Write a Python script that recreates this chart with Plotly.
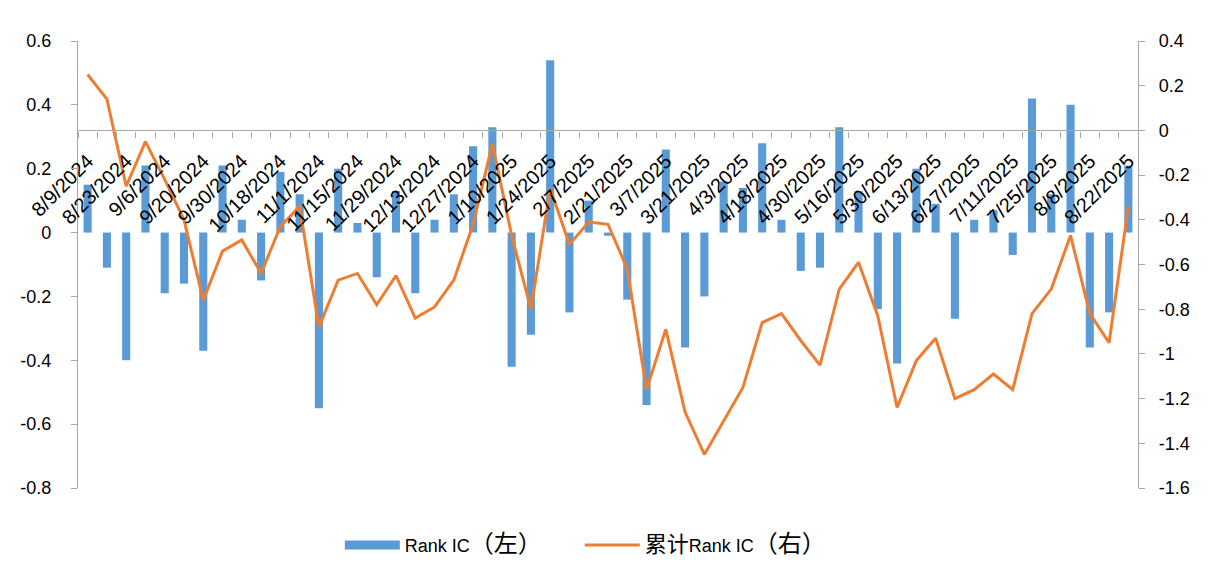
import plotly.graph_objects as go

dates = [
    "8/9/2024", "8/16/2024", "8/23/2024", "8/30/2024", "9/6/2024", "9/13/2024",
    "9/20/2024", "9/27/2024", "9/30/2024", "10/11/2024", "10/18/2024", "10/25/2024",
    "11/1/2024", "11/8/2024", "11/15/2024", "11/22/2024", "11/29/2024", "12/6/2024",
    "12/13/2024", "12/20/2024", "12/27/2024", "1/3/2025", "1/10/2025", "1/17/2025",
    "1/24/2025", "1/27/2025", "2/7/2025", "2/14/2025", "2/21/2025", "2/28/2025",
    "3/7/2025", "3/14/2025", "3/21/2025", "3/28/2025", "4/3/2025", "4/11/2025",
    "4/18/2025", "4/25/2025", "4/30/2025", "5/9/2025", "5/16/2025", "5/23/2025",
    "5/30/2025", "6/6/2025", "6/13/2025", "6/20/2025", "6/27/2025", "7/4/2025",
    "7/11/2025", "7/18/2025", "7/25/2025", "8/1/2025", "8/8/2025", "8/15/2025",
    "8/22/2025",
]

rank_ic = [
    0.15, -0.11, -0.40, 0.21, -0.19, -0.16, -0.37, 0.21, 0.04, -0.15, 0.19,
    0.12, -0.55, 0.20, 0.03, -0.14, 0.13, -0.19, 0.04, 0.12, 0.27, 0.33,
    -0.42, -0.32, 0.54, -0.25, 0.10, -0.01, -0.21, -0.54, 0.26, -0.36, -0.20,
    0.16, 0.14, 0.28, 0.04, -0.12, -0.11, 0.33, 0.13, -0.24, -0.41, 0.20,
    0.09, -0.27, 0.04, 0.07, -0.07, 0.42, 0.12, 0.40, -0.36, -0.25, 0.21,
]

cum_rank_ic = [
    0.25, 0.14, -0.25, -0.05, -0.22, -0.40, -0.76, -0.54, -0.49, -0.64, -0.43,
    -0.34, -0.88, -0.67, -0.64, -0.78, -0.65, -0.84, -0.79, -0.67, -0.42, -0.06,
    -0.47, -0.80, -0.26, -0.51, -0.41, -0.42, -0.62, -1.16, -0.89, -1.26, -1.45,
    -1.30, -1.15, -0.86, -0.82, -0.94, -1.05, -0.71, -0.59, -0.83, -1.24, -1.03,
    -0.93, -1.20, -1.16, -1.09, -1.16, -0.82, -0.71, -0.47, -0.82, -0.95, -0.34,
]

x_tick_text = [d if i % 2 == 0 else "" for i, d in enumerate(dates)]

left_ticks = [0.6, 0.4, 0.2, 0, -0.2, -0.4, -0.6, -0.8]
left_tick_text = ["0.6", "0.4", "0.2", "0", "-0.2", "-0.4", "-0.6", "-0.8"]
right_ticks = [0.4, 0.2, 0, -0.2, -0.4, -0.6, -0.8, -1.0, -1.2, -1.4, -1.6]
right_tick_text = ["0.4", "0.2", "0", "-0.2", "-0.4", "-0.6", "-0.8", "-1", "-1.2", "-1.4", "-1.6"]

bar_name = "Rank IC<span style='font-size:24px'>（左）</span>"
line_name = "<span style='font-size:22px'>累计</span>Rank IC<span style='font-size:24px'>（右）</span>"

BLUE = "#5B9BD5"
ORANGE = "#ED7D31"
AXIS = "#A6A6A6"
FONT = "Arial, 'Liberation Sans', 'Noto Sans CJK SC', sans-serif"

fig = go.Figure()
fig.add_trace(go.Bar(
    x=dates, y=rank_ic, name=bar_name, showlegend=False,
    marker=dict(color=BLUE, line=dict(width=0)),
    yaxis="y", xaxis="x",
))
# legend swatch for the bars (wide flat rectangle like the original)
fig.add_trace(go.Scatter(
    x=[dates[0]], y=[None], name=bar_name, mode="lines",
    line=dict(color=BLUE, width=9),
    yaxis="y", xaxis="x", showlegend=True, hoverinfo="skip",
))
fig.add_trace(go.Scatter(
    x=dates, y=cum_rank_ic, name=line_name,
    mode="lines", line=dict(color=ORANGE, width=3),
    yaxis="y2", xaxis="x",
))

fig.update_layout(
    template="none",
    width=1215, height=570,
    paper_bgcolor="white", plot_bgcolor="white",
    margin=dict(l=70, r=85, t=33, b=90, autoexpand=False),
    font=dict(family=FONT, color="black", size=17),
    bargap=0.58,
    showlegend=True,
    legend=dict(
        orientation="h", x=0.247, xanchor="left", y=-0.128, yanchor="middle",
        font=dict(size=18, family=FONT, color="black"),
        traceorder="normal", itemwidth=55,
        entrywidth=170, entrywidthmode="pixels",
    ),
    xaxis=dict(
        type="category",
        range=[-0.5, len(dates) - 0.5],
        anchor="free", position=0.8,
        showline=True, linecolor=AXIS, linewidth=1.2,
        ticks="outside", ticklen=6, tickcolor=AXIS, tickwidth=1.2,
        tickson="boundaries",
        tickmode="array", tickvals=dates, ticktext=x_tick_text,
        tickangle=-45,
        ticklabelstandoff=10,
        tickfont=dict(size=20, family=FONT, color="black"),
        showgrid=False, zeroline=False, automargin=False,
    ),
    yaxis=dict(
        range=[-0.8, 0.6], domain=[0, 1],
        tickmode="array", tickvals=left_ticks, ticktext=left_tick_text,
        showline=True, linecolor=AXIS, linewidth=1.2,
        ticks="outside", ticklen=6, tickcolor=AXIS, tickwidth=1.2,
        tickfont=dict(size=18, family=FONT, color="black"),
        ticklabelstandoff=16,
        showgrid=False, zeroline=False, automargin=False,
    ),
    yaxis2=dict(
        range=[-1.6, 0.4], overlaying="y", side="right", anchor="x",
        tickmode="array", tickvals=right_ticks, ticktext=right_tick_text,
        showline=True, linecolor=AXIS, linewidth=1.2,
        ticks="outside", ticklen=6, tickcolor=AXIS, tickwidth=1.2,
        tickfont=dict(size=18, family=FONT, color="black"),
        ticklabelstandoff=10,
        showgrid=False, zeroline=False, automargin=False,
    ),
)

fig.write_html("out.html")
